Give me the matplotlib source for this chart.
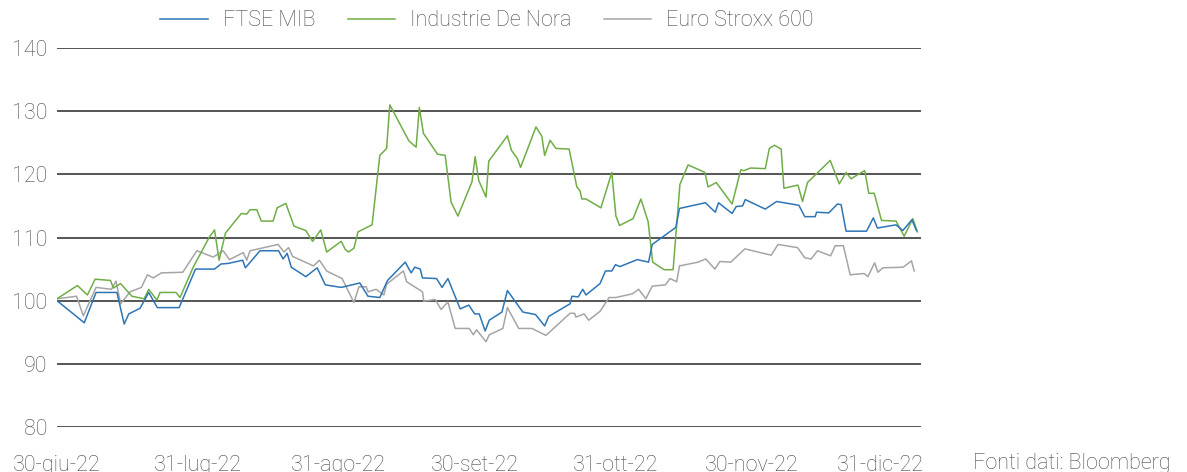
import matplotlib
matplotlib.use("Agg")
import matplotlib.pyplot as plt
import matplotlib.transforms as mtransforms
import pandas as pd

plt.rcParams['font.family'] = ['Roboto', 'DejaVu Sans']

start = pd.Timestamp("2022-06-30")

# day offsets from 30-giu-22 and index values (base 100)
ftse_days = [0, 6.0, 8.6, 13.2, 14.8, 15.8, 18.3, 20.2, 22.1, 26.9, 30.5, 34.7, 36.1, 37.7,
             40.9, 41.5, 44.7, 48.8, 49.8, 50.7, 51.6, 54.8, 57.3, 59.1, 62.6, 66.7, 68.5,
             71.1, 72.8, 76.7, 78.0, 78.8, 80.0, 80.5, 83.6, 84.8, 86.1, 88.8, 90.7, 92.0,
             93.0, 94.3, 95.2, 98.0, 99.2, 102.6, 105.4, 107.4, 108.3, 113.0, 113.4, 114.8,
             115.8, 116.5, 119.6, 120.8, 122.2, 123.0, 124.0, 127.8, 130.3, 131.1, 136.3,
             137.1, 142.8, 145.0, 145.7, 148.7, 149.6, 151.0, 151.6, 156.0, 158.5, 163.4,
             164.7, 167.0, 167.3, 170.0, 171.9, 172.7, 173.8, 178.3, 179.8, 180.7, 184.8,
             186.3, 188.3, 189.3]
ftse_vals = [100.0, 96.5, 101.3, 101.3, 96.3, 97.9, 98.8, 101.3, 98.9, 98.9, 105.0, 105.0,
             105.8, 105.9, 106.4, 105.2, 107.9, 107.9, 106.6, 107.5, 105.3, 103.8, 105.2,
             102.5, 102.1, 102.8, 100.7, 100.5, 103.2, 106.1, 104.4, 105.3, 105.0, 103.6,
             103.5, 102.1, 103.5, 98.7, 99.3, 97.9, 97.9, 95.2, 96.9, 98.2, 101.6, 98.2,
             97.8, 96.0, 97.5, 99.5, 100.7, 100.6, 101.8, 100.9, 102.7, 104.7, 104.7, 105.7,
             105.4, 106.5, 106.1, 108.9, 111.6, 114.6, 115.5, 114.0, 115.5, 113.8, 114.9,
             115.0, 116.0, 114.5, 115.7, 115.1, 113.3, 113.3, 114.0, 113.9, 115.3, 115.2,
             111.0, 111.0, 113.1, 111.5, 112.0, 111.1, 112.8, 111.1]

denora_days = [0, 4.5, 6.7, 8.4, 11.8, 12.4, 14.0, 16.5, 19.2, 20.2, 22.0, 22.7, 26.2, 27.1,
               30.0, 33.5, 34.7, 35.7, 37.1, 40.6, 41.8, 42.5, 44.0, 45.0, 47.6, 48.5, 50.4,
               52.2, 54.8, 56.3, 58.1, 59.4, 62.6, 63.5, 64.2, 65.4, 66.3, 69.4, 71.1, 72.6,
               73.3, 77.5, 79.1, 79.8, 80.7, 83.8, 85.5, 86.8, 88.3, 91.4, 92.1, 92.9, 94.5,
               95.1, 99.2, 100.1, 101.4, 102.1, 105.5, 106.8, 107.4, 108.6, 109.9, 112.8,
               114.5, 115.2, 115.6, 116.5, 119.8, 122.2, 123.1, 123.9, 126.9, 128.6, 130.2,
               131.2, 133.7, 135.7, 137.2, 139.0, 142.7, 143.4, 145.2, 148.7, 150.6, 151.3,
               152.8, 156.0, 156.9, 158.0, 159.5, 160.1, 163.2, 164.2, 165.3, 170.3, 172.3,
               173.8, 174.9, 177.9, 178.8, 180.0, 181.6, 184.8, 186.6, 188.5, 189.5]
denora_vals = [100.3, 102.4, 100.9, 103.4, 103.2, 102.0, 102.7, 100.7, 100.3, 101.8, 100.1,
               101.3, 101.3, 100.5, 105.3, 110.0, 111.2, 106.4, 110.7, 113.8, 113.7, 114.4,
               114.4, 112.6, 112.6, 114.7, 115.4, 111.8, 111.1, 109.4, 111.2, 107.7, 109.4,
               108.1, 107.7, 108.3, 110.9, 112.0, 123.0, 124.1, 131.0, 125.3, 124.3, 130.6,
               126.5, 123.2, 123.0, 115.6, 113.4, 118.8, 122.8, 119.0, 116.4, 122.1, 126.1,
               123.8, 122.5, 121.1, 127.5, 126.0, 123.0, 125.4, 124.1, 124.0, 118.0, 117.4,
               116.1, 116.1, 114.7, 120.3, 113.4, 111.9, 113.0, 116.1, 112.5, 106.1, 104.9,
               104.9, 118.4, 121.5, 120.3, 118.0, 118.7, 115.3, 120.7, 120.6, 121.0, 120.9,
               124.1, 124.6, 124.0, 117.8, 118.3, 115.7, 118.7, 122.2, 118.5, 120.3, 119.3,
               120.6, 117.0, 117.0, 112.7, 112.6, 110.2, 113.0, 110.9]

stoxx_days = [0, 4.3, 5.8, 8.6, 12.0, 13.0, 14.0, 16.1, 18.6, 19.9, 21.2, 23.0, 27.7, 30.8,
              34.4, 36.6, 38.0, 41.0, 41.8, 42.5, 48.7, 50.0, 51.0, 51.9, 56.5, 57.8, 59.4,
              62.8, 65.4, 66.5, 68.1, 68.5, 70.3, 72.0, 72.6, 76.3, 77.0, 80.5, 80.8, 83.3,
              84.6, 86.1, 87.7, 90.8, 91.7, 92.4, 94.5, 95.2, 98.2, 99.2, 101.7, 104.6, 107.7,
              113.0, 114.0, 114.3, 116.1, 117.1, 119.6, 121.6, 123.1, 126.8, 128.1, 129.7,
              131.1, 134.0, 135.0, 136.5, 137.1, 141.2, 142.9, 144.9, 146.0, 148.4, 151.5,
              157.3, 158.8, 163.1, 164.7, 166.1, 167.5, 170.4, 171.4, 173.2, 174.7, 177.8,
              178.6, 180.1, 180.8, 181.9, 186.4, 188.2, 188.8]
stoxx_vals = [100.3, 100.7, 97.6, 102.1, 101.8, 103.1, 99.5, 101.4, 102.1, 104.1, 103.6,
              104.4, 104.5, 107.9, 106.9, 107.9, 106.5, 107.6, 106.4, 107.9, 108.9, 107.7,
              108.4, 107.0, 105.5, 106.4, 104.7, 103.5, 99.7, 102.2, 102.2, 101.4, 101.8,
              100.9, 102.6, 104.7, 103.0, 101.4, 99.9, 100.2, 98.6, 99.8, 95.6, 95.6, 94.6,
              95.4, 93.5, 94.6, 95.6, 98.9, 95.6, 95.6, 94.5, 98.0, 98.0, 97.4, 97.9, 96.9,
              98.3, 100.5, 100.5, 101.1, 101.8, 100.3, 102.3, 102.5, 103.5, 103.0, 105.5,
              106.1, 106.6, 105.0, 106.2, 106.1, 108.2, 107.2, 108.9, 108.4, 106.8, 106.6,
              107.9, 107.1, 108.7, 108.7, 104.1, 104.3, 103.8, 106.0, 104.5, 105.2, 105.3,
              106.3, 104.7]

tick_dates = ["2022-06-30", "2022-07-31", "2022-08-31", "2022-09-30",
              "2022-10-31", "2022-11-30", "2022-12-31"]
tick_labels = ["30-giu-22", "31-lug-22", "31-ago-22", "30-set-22",
               "31-ott-22", "30-nov-22", "31-dic-22"]
y_ticks = [80, 90, 100, 110, 120, 130, 140]

txt_color = "#4a4a4a"
fs = 15.5


def to_dates(days):
    return start + pd.to_timedelta(days, unit="D")


fig = plt.figure(figsize=(11.87, 4.72), dpi=100)
ax = fig.add_axes([57 / 1187, 1 - 427 / 472, (921 - 57) / 1187, (427 - 48) / 472])

ax.plot(to_dates(stoxx_days), stoxx_vals, color="#a5a5a5", lw=1.1, label="Euro Stroxx 600")
ax.plot(to_dates(denora_days), denora_vals, color="#70ad47", lw=1.1, label="Industrie De Nora")
ax.plot(to_dates(ftse_days), ftse_vals, color="#2e75b6", lw=1.1, label="FTSE MIB")

ax.set_ylim(80, 140)
ax.set_xlim(start, start + pd.Timedelta(days=190.3))
ax.set_yticks(y_ticks)
ax.set_xticks(pd.to_datetime(tick_dates))
ax.set_xticklabels(tick_labels)
ax.grid(axis="y", color="#262626", lw=1.1)
ax.set_axisbelow(True)
for s in ax.spines.values():
    s.set_visible(False)
ax.tick_params(length=0, labelsize=fs, colors=txt_color)
ax.tick_params(axis="y", pad=7)
ax.tick_params(axis="x", pad=20)
for t in ax.get_xticklabels() + ax.get_yticklabels():
    t.set_fontweight("light")
# last date label is pulled left in the original
last = ax.get_xticklabels()[-1]
last.set_transform(last.get_transform() + mtransforms.ScaledTranslation(-12 / 100, 0, fig.dpi_scale_trans))

h, l = ax.get_legend_handles_labels()
leg = fig.legend(h[::-1], l[::-1], loc="center", bbox_to_anchor=(487 / 1187, 1 - 21 / 472),
                 ncol=3, frameon=False, fontsize=fs, handlelength=2.2, handletextpad=0.7,
                 columnspacing=1.5)
for t in leg.get_texts():
    t.set_color(txt_color)
    t.set_fontweight("light")

fig.text(973 / 1187, 1 - 464 / 472, "Fonti dati: Bloomberg", fontsize=fs, color=txt_color,
         fontweight="light", va="center", ha="left")

fig.savefig("out.png", dpi=100)
